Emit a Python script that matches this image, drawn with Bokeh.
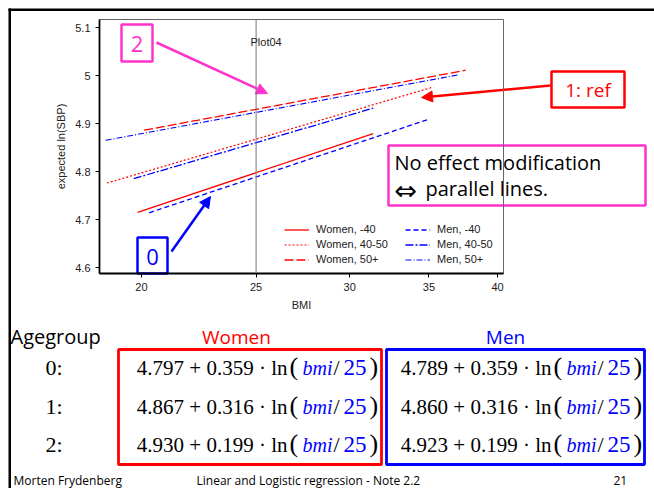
from bokeh.plotting import figure
from bokeh.layouts import column
from bokeh.models import (Label, BoxAnnotation, Arrow, NormalHead, Span, Legend, LegendItem,
                          FixedTicker, NumeralTickFormatter, Range1d)
from bokeh.embed import file_html
from bokeh.resources import INLINE

# ---------------- data ----------------
series = ["Women, -40", "Women, 40-50", "Women, 50+", "Men, -40", "Men, 40-50", "Men, 50+"]
bmi_start = [19.85, 18.7, 20.1, 20.3, 19.7, 18.65]
bmi_end = [31.4, 35.3, 37.6, 34.9, 31.4, 37.0]
lnsbp_start = [4.715, 4.776, 4.886, 4.714, 4.785, 4.865]
lnsbp_end = [4.879, 4.976, 5.011, 4.908, 4.932, 5.001]

x_ticks = [20, 25, 30, 35, 40]
y_ticks = [4.6, 4.7, 4.8, 4.9, 5.0, 5.1]

agegroups = ["0:", "1:", "2:"]
women_const = ["4.797", "4.867", "4.930"]
men_const = ["4.789", "4.860", "4.923"]
slopes = ["0.359", "0.316", "0.199"]

RED = "#FF0000"
BLUE = "#0000FF"
MAG = "#FF33CC"
styles = [
    (RED, "solid", 1.3), (RED, "2 2", 1.2), (RED, "9 3", 1.3),
    (BLUE, "5 3", 1.3), (BLUE, "8 2 2 2", 1.3), (BLUE, "6 2 1 2", 1.1),
]

SANS = "Liberation Sans"
SERIF = "Liberation Serif"
HAND = "Open Sans"

W, H = 654, 488

# ---------------- slide layer (page-pixel coordinates) ----------------
s = figure(width=W, height=H, x_range=Range1d(0, W), y_range=Range1d(H, 0),
           x_axis_location=None, y_axis_location=None, min_border=0,
           output_backend="svg", toolbar_location=None)
s.grid.visible = False
s.outline_line_color = None

def label(X, Y, text, color="black", size="20px", font=HAND, style="normal", align="left"):
    s.add_layout(Label(x=X, y=Y, text=text, text_color=color, text_font_size=size,
                       text_font=font, text_font_style=style, text_align=align,
                       text_baseline="middle"))

def box(l, t, r, b, color, width=2.5, fill=None):
    s.add_layout(BoxAnnotation(left=l, right=r, top=t, bottom=b,
                               line_color=color, line_width=width, line_alpha=1,
                               fill_color=fill if fill else "white",
                               fill_alpha=1 if fill else 0))

def arrow(x0, y0, x1, y1, color):
    s.add_layout(Arrow(x_start=x0, y_start=y0, x_end=x1, y_end=y1,
                       line_color=color, line_width=2.5,
                       end=NormalHead(size=11, fill_color=color, line_color=color)))

# slide border
box(8, 8, W, 10.5, "black", width=0, fill="black")
box(8, 8, 10.5, H, "black", width=0, fill="black")

# callouts
box(121, 24, 152, 61, MAG)
label(136.5, 43, "2", color=MAG, size="22px", align="center")
arrow(156, 42, 267, 93, MAG)

box(551, 71, 624, 107, RED)
label(587.5, 89, "1: ref", color=RED, size="19px", align="center")
arrow(550, 85, 421, 97, RED)

box(137, 237, 167, 273, BLUE)
label(152, 256, "0", color=BLUE, size="22px", align="center")
arrow(171, 251, 210, 196, BLUE)

box(388, 145, 645, 205, MAG)
label(394, 162, "No effect modification", size="20px")
label(394, 190, "\u21d4", size="27px", font="DejaVu Sans")
label(425, 188, "parallel lines.", size="20px")

# lower table
label(10, 336, "Agegroup", size="20px")
label(236, 336, "Women", color=RED, size="19px", align="center")
label(505, 336, "Men", color=BLUE, size="19px", align="center")
box(118, 349, 381, 464, RED, width=2.8)
box(386, 349, 644, 464, BLUE, width=2.8)

row_y = [367, 406, 444]
for k in range(3):
    Y = row_y[k]
    label(45, Y, agegroups[k], size="22px", font=SERIF)
    for off, const in ((0, women_const[k]), (264, men_const[k])):
        label(287 + off, Y, f"{const} + {slopes[k]} \u00b7 ln", size="21px", font=SERIF, align="right")
        label(289 + off, Y - 1, "(", size="26px", font=SERIF)
        label(302 + off, Y, "bmi", color=BLUE, size="20px", font=SERIF, style="italic")
        label(333 + off, Y, "/", size="22px", font=SERIF)
        label(343 + off, Y, "25", color=BLUE, size="23px", font=SERIF)
        label(369 + off, Y - 1, ")", size="26px", font=SERIF)

# footer
label(13, 480, "Morten Frydenberg", size="12px")
label(196, 480, "Linear and Logistic regression - Note 2.2", size="12px")
label(613, 480, "21", size="12px")

# ---------------- chart layer ----------------
FL, FR, FT, FB = 99, 503, 19, 273
p = figure(width=W, height=H, x_axis_type="log",
           x_range=(18.43, 40.47), y_range=(4.5875, 5.1167),
           output_backend="svg", toolbar_location=None,
           min_border_left=FL, min_border_right=W - FR, min_border_top=FT, min_border_bottom=H - FB)
p.grid.visible = False
p.outline_line_color = "#666666"
p.outline_line_width = 1
p.background_fill_alpha = 0
p.border_fill_alpha = 0

for ax in (p.xaxis[0], p.yaxis[0]):
    ax.axis_line_width = 1.8
    ax.axis_line_color = "black"
    ax.major_tick_out = 4
    ax.major_tick_in = 0
    ax.minor_tick_line_color = None
    ax.major_label_text_font = SANS
    ax.major_label_text_font_size = "11px"
    ax.major_label_text_color = "#222222"
    ax.axis_label_text_font = SANS
    ax.axis_label_text_font_size = "11px"
    ax.axis_label_text_font_style = "normal"
    ax.axis_label_text_color = "#222222"

p.xaxis.ticker = FixedTicker(ticks=x_ticks)
p.xaxis.formatter = NumeralTickFormatter(format="0")
p.xaxis.axis_label = "BMI"
p.yaxis.ticker = FixedTicker(ticks=y_ticks)
p.yaxis.major_label_overrides = {5: "5"}
p.yaxis.axis_label = "expected ln(SBP)"

p.add_layout(Span(location=25, dimension="height", line_color="#777777", line_width=1))

renderers = []
for i, name in enumerate(series):
    c, d, w = styles[i]
    r = p.line(x=[bmi_start[i], bmi_end[i]], y=[lnsbp_start[i], lnsbp_end[i]],
               line_color=c, line_dash=d, line_width=w)
    renderers.append(r)

def legend(items, X):
    lg = Legend(items=[LegendItem(label=series[i], renderers=[renderers[i]]) for i in items],
                location=(X - FL, FB - 266.5), padding=0, margin=0, spacing=0,
                glyph_width=25, glyph_height=15, label_height=15, label_standoff=7,
                label_text_font=SANS, label_text_font_size="11px", label_text_color="#222222",
                border_line_color=None, background_fill_alpha=0)
    p.add_layout(lg, "center")
legend([0, 1, 2], 284)
legend([3, 4, 5], 405)

p.add_layout(Label(x=250 - FL, y=FB - 41, x_units="screen", y_units="screen", text="Plot04",
                   text_font=SANS, text_font_size="11px", text_color="#222222",
                   text_baseline="middle"))

# stack the chart on top of the slide layer (wrapped so frames are not aligned)
top = column(p, spacing=0, margin=(-H, 0, 0, 0))
bottom = column(s, spacing=0)
layout = column(bottom, top, spacing=0)
open("out.html", "w").write(file_html(layout, INLINE))
